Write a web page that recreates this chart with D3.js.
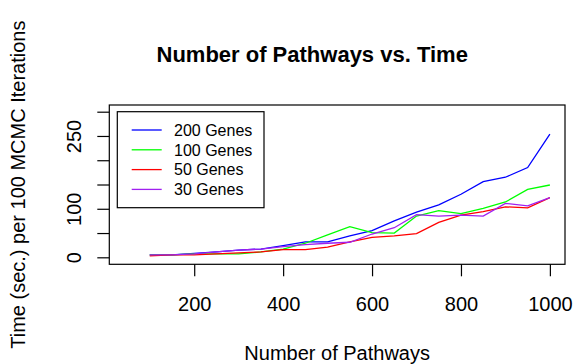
<!DOCTYPE html>
<html>
<head>
<meta charset="utf-8">
<script src="https://cdn.jsdelivr.net/npm/d3@7"></script>
<style>
  body { margin: 0; background: #fff; }
  svg { display: block; font-family: "Liberation Sans", Arial, sans-serif; }
  .tick line { stroke: #000; }
</style>
</head>
<body>
<div id="chart"></div>
<script>
// Number of pathways on the x axis
const pathways = [100, 150, 200, 250, 300, 350, 400, 450, 500, 550, 600, 650, 700, 750, 800, 850, 900, 950, 1000];

// Time (sec.) per 100 MCMC iterations, one array per gene count
const genes200 = [5, 5, 8, 11, 15, 17, 24, 32, 32, 44, 55, 75, 93, 108, 130, 156, 165, 185, 254];
const genes100 = [5, 5, 7, 7, 7, 11, 17, 29, 46, 63, 51, 50, 85, 96, 90, 101, 114, 140, 149];
const genes50 = [3, 5, 5, 7, 9, 11, 16, 16, 21, 32, 41, 44, 49, 72, 87, 94, 104, 102, 123];
const genes30 = [5, 5, 7, 11, 15, 17, 22, 26, 29, 31, 48, 61, 88, 85, 87, 85, 111, 106, 123];

const seriesNames = ['200 Genes', '100 Genes', '50 Genes', '30 Genes'];
const seriesColors = ['#0000ff', '#00ff00', '#ff0000', '#a020f0'];

const xTicks = [200, 400, 600, 800, 1000];
const yTicks = [0, 50, 100, 150, 200, 250, 300];
const yTickLabels = [0, 100, 250]; // the other labels are dropped, as in the picture

const width = 574;
const height = 364;

// plot box
const box = { left: 109.3, right: 565, top: 105, bottom: 264.3 };

const svg = d3.select('#chart')
  .append('svg')
  .attr('width', width)
  .attr('height', height);

// Scales
const xScale = d3.scaleLinear().domain([9, 1034]).range([box.left, box.right]);
const yScale = d3.scaleLinear().domain([-14.4, 313.8]).range([box.bottom, box.top]);

// Lines
const line = d3.line()
  .x((d, i) => xScale(pathways[i]))
  .y(d => yScale(d));

const allSeries = [genes200, genes100, genes50, genes30];

svg.selectAll('.series')
  .data(allSeries)
  .enter()
  .append('path')
  .attr('class', 'series')
  .attr('d', d => line(d))
  .attr('fill', 'none')
  .attr('stroke', (d, i) => seriesColors[i])
  .attr('stroke-width', 1.3);

// Box around plot
svg.append('rect')
  .attr('x', box.left)
  .attr('y', box.top)
  .attr('width', box.right - box.left)
  .attr('height', box.bottom - box.top)
  .attr('fill', 'none')
  .attr('stroke', '#000')
  .attr('stroke-width', 1.2);

// X axis
const xAxis = svg.append('g')
  .attr('transform', `translate(0,${box.bottom})`)
  .call(d3.axisBottom(xScale).tickValues(xTicks).tickSize(12).tickFormat(d3.format('d')));
xAxis.select('.domain').remove();
xAxis.selectAll('.tick line').attr('stroke-width', 1.2);
xAxis.selectAll('text')
  .attr('y', 46.7)
  .attr('dy', 0)
  .attr('fill', '#000')
  .style('font-size', '20px')
  .style('font-family', '"Liberation Sans", Arial, sans-serif');

// Y axis
const yAxis = svg.append('g')
  .attr('transform', `translate(${box.left},0)`)
  .call(d3.axisLeft(yScale).tickValues(yTicks).tickSize(12)
    .tickFormat(d => yTickLabels.includes(d) ? d : ''));
yAxis.select('.domain').remove();
yAxis.selectAll('.tick line').attr('stroke-width', 1.2);
yAxis.selectAll('text')
  .attr('x', 0)
  .attr('dy', 0)
  .attr('text-anchor', 'middle')
  .attr('transform', 'translate(-28.8,0) rotate(-90)')
  .attr('fill', '#000')
  .style('font-size', '20px')
  .style('font-family', '"Liberation Sans", Arial, sans-serif');

// Title
svg.append('text')
  .attr('x', 156.5)
  .attr('y', 61.7)
  .attr('font-size', '22px')
  .attr('font-weight', 'bold')
  .text('Number of Pathways vs. Time');

// Axis labels
svg.append('text')
  .attr('x', (box.left + box.right) / 2)
  .attr('y', 360)
  .attr('text-anchor', 'middle')
  .attr('font-size', '20px')
  .text('Number of Pathways');

svg.append('text')
  .attr('transform', `translate(25,${(box.top + box.bottom) / 2}) rotate(-90)`)
  .attr('text-anchor', 'middle')
  .attr('font-size', '20px')
  .text('Time (sec.) per 100 MCMC Iterations');

// Legend
const legend = svg.append('g');
legend.append('rect')
  .attr('x', 117.3)
  .attr('y', 111.7)
  .attr('width', 146.7)
  .attr('height', 96)
  .attr('fill', '#fff')
  .attr('stroke', '#000')
  .attr('stroke-width', 1.2);

const rows = legend.selectAll('.row')
  .data(seriesNames)
  .enter()
  .append('g')
  .attr('class', 'row')
  .attr('transform', (d, i) => `translate(0,${130 + i * 19.8})`);

rows.append('line')
  .attr('x1', 131.7)
  .attr('x2', 161.7)
  .attr('stroke', (d, i) => seriesColors[i])
  .attr('stroke-width', 1.3);

rows.append('text')
  .attr('x', 174)
  .attr('y', 5.8)
  .attr('font-size', '16px')
  .text(d => d);
</script>
</body>
</html>
